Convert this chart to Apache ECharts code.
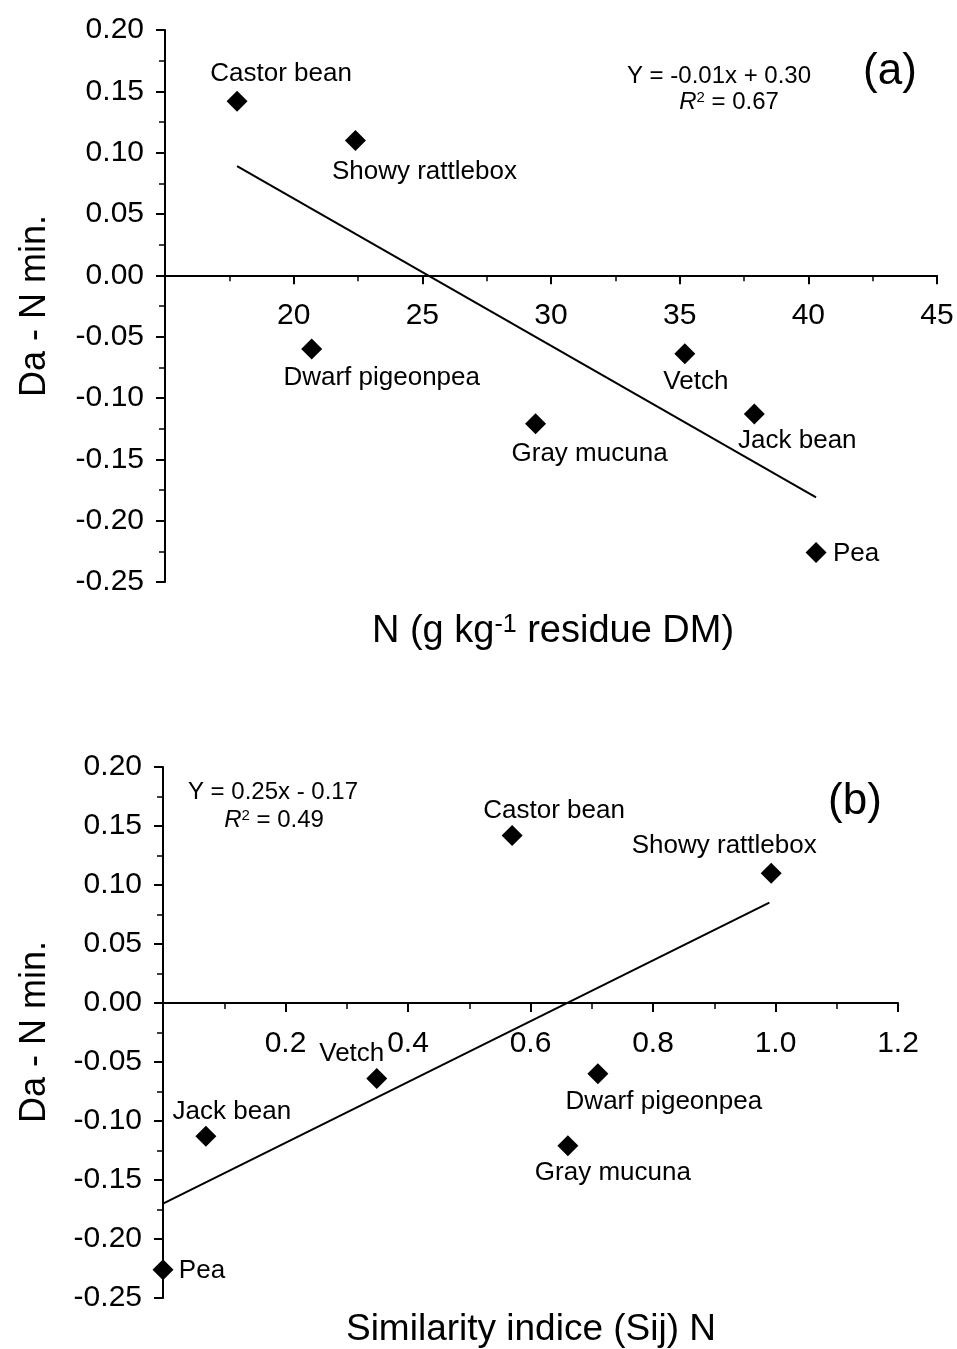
<!DOCTYPE html>
<html>
<head>
<meta charset="utf-8">
<title>Da - N min. vs residue N and similarity index</title>
<script src="https://cdn.jsdelivr.net/npm/echarts@6/dist/echarts.min.js"></script>
<style>
  html, body { margin: 0; padding: 0; background: #fff; }
  #chart { width: 957px; height: 1349px; }
</style>
</head>
<body>
<div id="chart"></div>
<script>
// Cover crops and their measured values
const species = ['Castor bean', 'Showy rattlebox', 'Dwarf pigeonpea', 'Gray mucuna', 'Vetch', 'Jack bean', 'Pea'];
const residueN = [17.8, 22.4, 20.7, 29.4, 35.2, 37.9, 40.3];          // g kg-1 residue DM
const similarityN = [0.570, 0.993, 0.710, 0.661, 0.349, 0.070, 0.000]; // Sij N
const daNmin = [0.142, 0.110, -0.060, -0.121, -0.064, -0.113, -0.226];

// Fitted regression lines (end points)
const fitA = [[17.8, 0.089], [40.3, -0.181]];
const fitB = [[0.0, -0.170], [0.99, 0.085]];

// Equation / annotation texts
const eqA = 'Y = -0.01x + 0.30';
const r2A = '0.67';
const eqB = 'Y = 0.25x - 0.17';
const r2B = '0.49';

// Shared y range
const Y_MIN = -0.25, Y_MAX = 0.20, Y_STEP = 0.05;

const FONT = '"Liberation Sans", Arial, Helvetica, sans-serif';

// grid boxes (px)
const GRID_A = { left: 165, right: 20, top: 30, bottom: 767 };
const GRID_B = { left: 163, right: 59, top: 767, bottom: 51 };
const CHART_H = 1349;

// label offsets (px) relative to each marker, per panel
const labelOffsetA = {
  'Castor bean': [44, -27], 'Showy rattlebox': [69, 31], 'Dwarf pigeonpea': [70, 29],
  'Gray mucuna': [54, 30], 'Vetch': [11, 28], 'Jack bean': [43, 27], 'Pea': [40, 1]
};
const labelOffsetB = {
  'Castor bean': [42, -25], 'Showy rattlebox': [-47, -27], 'Dwarf pigeonpea': [66, 28],
  'Gray mucuna': [45, 27], 'Vetch': [-25, -25], 'Jack bean': [26, -25], 'Pea': [39, 1]
};

function points(xs, offsets) {
  return species.map((name, i) => ({
    name: name,
    value: [xs[i], daNmin[i]],
    label: { offset: offsets[name] }
  }));
}

// distance from the grid bottom up to the y = 0 line, so the x axis crosses there
function zeroLift(grid) {
  const h = CHART_H - grid.top - grid.bottom;
  return -h * (0 - Y_MIN) / (Y_MAX - Y_MIN);
}

function yAxisFor(gridIndex) {
  return {
    type: 'value', gridIndex: gridIndex,
    min: Y_MIN, max: Y_MAX, interval: Y_STEP,
    splitLine: { show: false },
    axisLine: { show: true, onZero: false, lineStyle: { color: '#000', width: 2 } },
    axisTick: { show: true, length: 9, lineStyle: { color: '#000', width: 2 } },
    minorTick: { show: true, splitNumber: 2, length: 6, lineStyle: { color: '#000', width: 1.5 } },
    axisLabel: { color: '#000', fontSize: 30, fontFamily: FONT, margin: 21,
                 formatter: v => v.toFixed(2) }
  };
}

function xAxisFor(gridIndex, grid, min, max, interval, digits, margin) {
  return {
    type: 'value', gridIndex: gridIndex,
    min: min, max: max, interval: interval,
    offset: zeroLift(grid),
    splitLine: { show: false },
    axisLine: { show: true, onZero: false, lineStyle: { color: '#000', width: 2 } },
    axisTick: { show: true, length: 9, lineStyle: { color: '#000', width: 2 } },
    minorTick: { show: true, splitNumber: 2, length: 6, lineStyle: { color: '#000', width: 1.5 } },
    axisLabel: { color: '#000', fontSize: 30, fontFamily: FONT, margin: margin,
                 showMinLabel: false, formatter: v => v.toFixed(digits) }
  };
}

const scatterStyle = {
  type: 'scatter', symbol: 'diamond', symbolSize: 21,
  itemStyle: { color: '#000', opacity: 1 },
  label: { show: true, position: 'inside', formatter: '{b}', color: '#000',
           fontSize: 26, fontFamily: FONT, opacity: 1 },
  emphasis: { disabled: true }
};

const lineStyle = {
  type: 'line', symbol: 'none', silent: true,
  lineStyle: { color: '#000', width: 2 }
};

function txt(x, y, text, size, extra) {
  return {
    type: 'text', x: x, y: y, silent: true,
    style: Object.assign({
      text: text, fill: '#000', fontSize: size, fontFamily: FONT,
      textAlign: 'center', textVerticalAlign: 'middle'
    }, extra || {})
  };
}

function r2Text(x, y, value) {
  return txt(x, y, '{i|R}{s|2}{t| = ' + value + '}', 24, {
    rich: {
      i: { fontSize: 24, fontStyle: 'italic', fontFamily: FONT, fill: '#000' },
      s: { fontSize: 15, fontFamily: FONT, verticalAlign: 'top', fill: '#000' },
      t: { fontSize: 24, fontFamily: FONT, fill: '#000' }
    }
  });
}

const chart = echarts.init(document.getElementById('chart'), null, { renderer: 'canvas' });

const yTitleA = txt(35, 306, 'Da - N min.', 36, {});
const yTitleB = txt(35, 1032, 'Da - N min.', 36, {});
yTitleA.rotation = Math.PI / 2;
yTitleB.rotation = Math.PI / 2;

chart.setOption({
  backgroundColor: '#fff',
  animation: false,
  grid: [GRID_A, GRID_B],
  xAxis: [
    xAxisFor(0, GRID_A, 15, 45, 5, 0, 25),
    xAxisFor(1, GRID_B, 0, 1.2, 0.2, 1, 26)
  ],
  yAxis: [yAxisFor(0), yAxisFor(1)],
  series: [
    Object.assign({}, lineStyle, { xAxisIndex: 0, yAxisIndex: 0, data: fitA }),
    Object.assign({}, scatterStyle, { xAxisIndex: 0, yAxisIndex: 0, data: points(residueN, labelOffsetA) }),
    Object.assign({}, lineStyle, { xAxisIndex: 1, yAxisIndex: 1, data: fitB }),
    Object.assign({}, scatterStyle, { xAxisIndex: 1, yAxisIndex: 1, data: points(similarityN, labelOffsetB) })
  ],
  graphic: [
    // axis titles
    yTitleA,
    yTitleB,
    txt(553, 632, '{n|N (g kg}{s|-1}{n| residue DM)}', 38, {
      rich: {
        n: { fontSize: 38, fontFamily: FONT, fill: '#000' },
        s: { fontSize: 25, fontFamily: FONT, verticalAlign: 'top', fill: '#000' }
      }
    }),
    txt(531, 1330, 'Similarity indice (Sij) N', 37, {}),
    // regression equations and panel tags
    txt(719, 76, eqA, 24, {}),
    r2Text(729, 102, r2A),
    txt(890, 72, '(a)', 44, {}),
    txt(273, 792, eqB, 24, {}),
    r2Text(274, 820, r2B),
    txt(855, 802, '(b)', 44, {})
  ]
});
</script>
</body>
</html>
